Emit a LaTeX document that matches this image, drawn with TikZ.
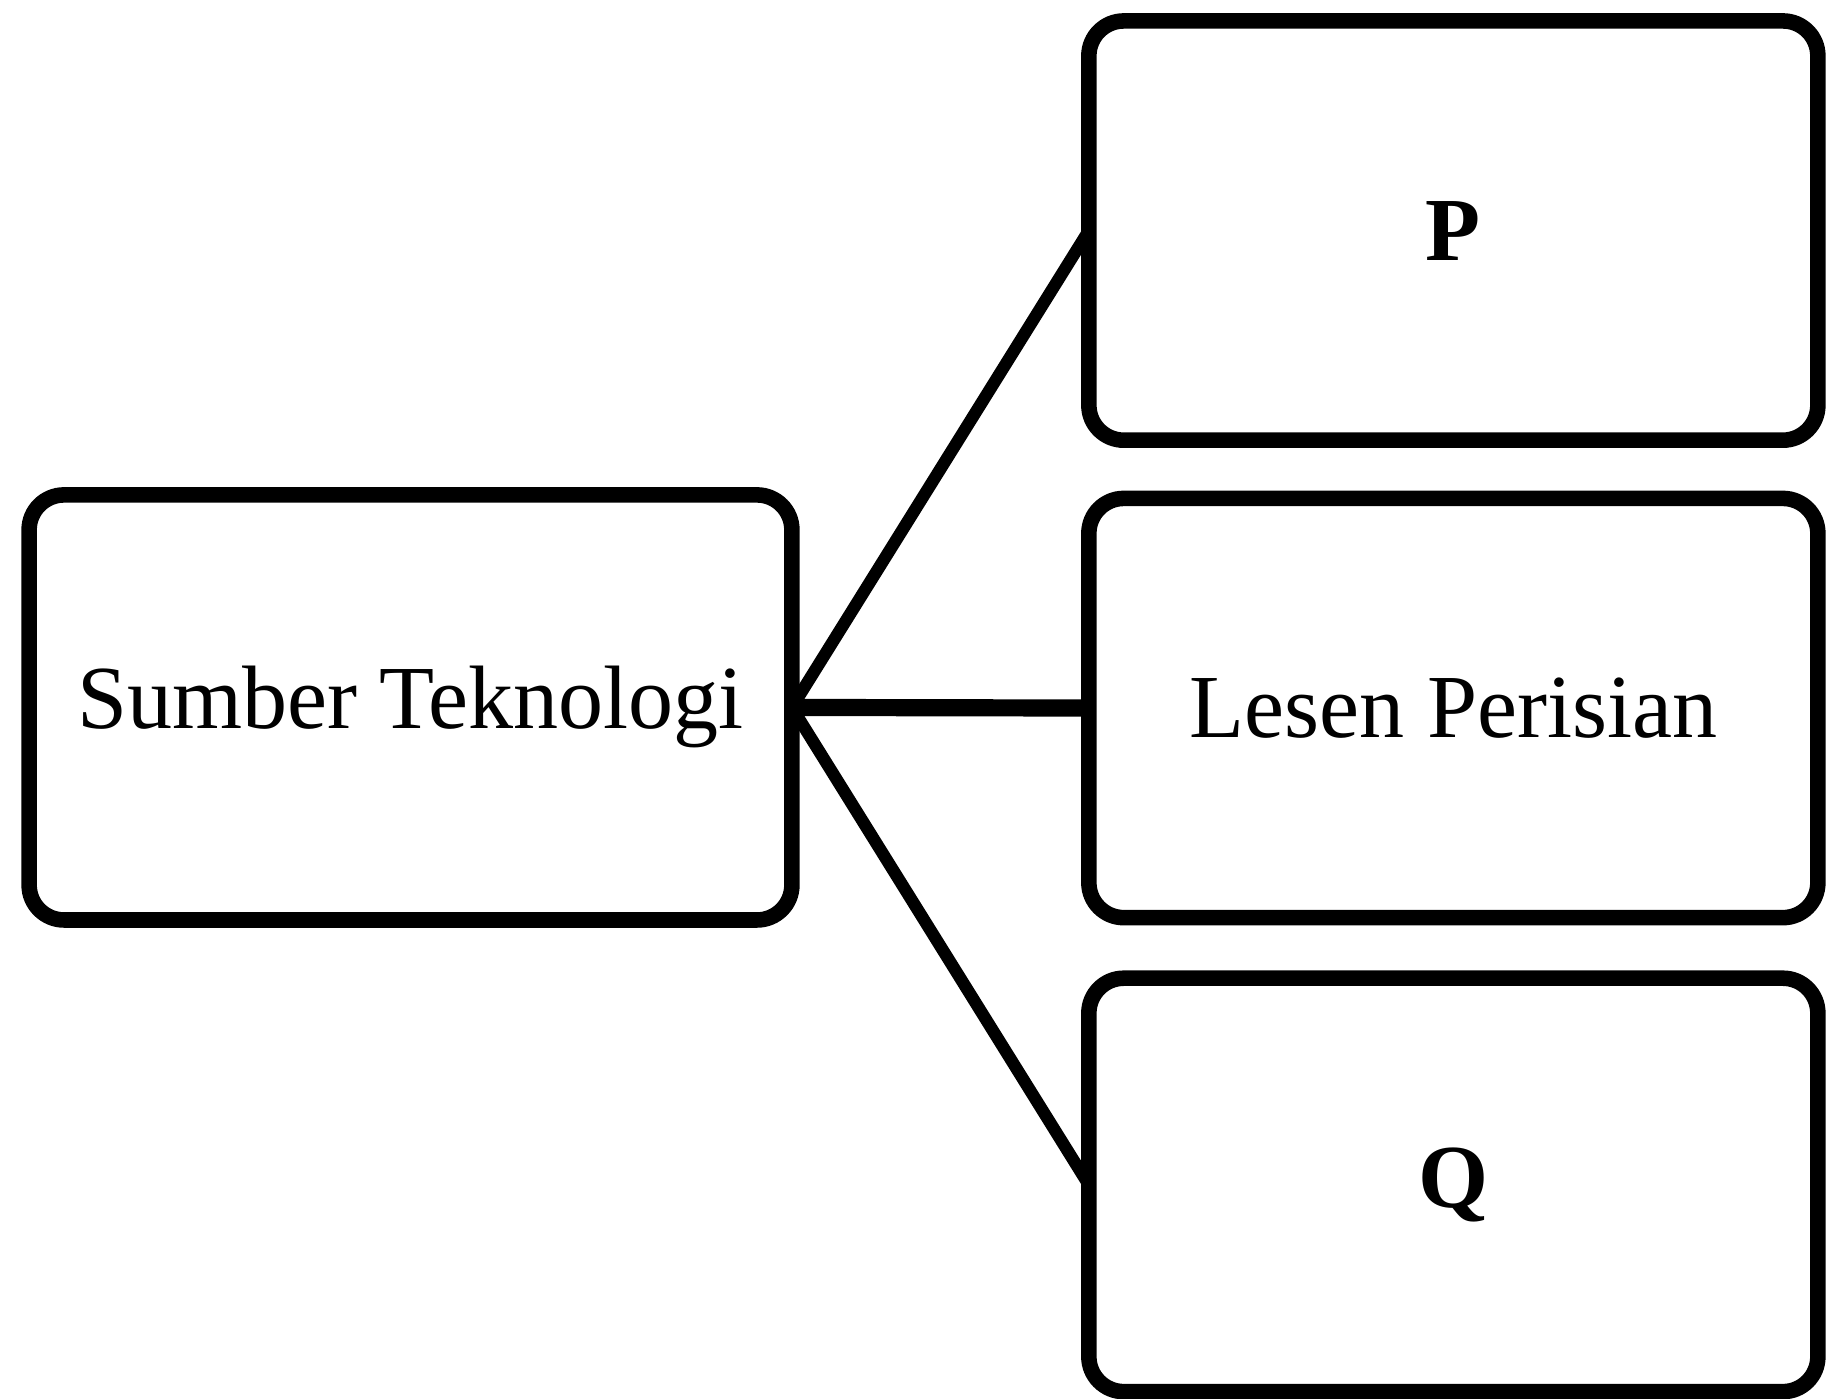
\documentclass[tikz,border=0pt]{standalone}
\usepackage{fontspec}
\setmainfont{Liberation Serif}
\usepackage{tikz}

\begin{document}
\begin{tikzpicture}[kotak/.style={draw, line width=3.8pt, rounded corners=0.3cm, inner sep=0pt, outer sep=0pt, font=\fontsize{22}{26}\selectfont}]

	\useasboundingbox (0,0) rectangle (15.68,12.01);

	\node[kotak, minimum width=6.55cm, minimum height=3.65cm] (a) at (3.525,5.935)  {Sumber Teknologi};
	
	\node[kotak, minimum width=6.26cm, minimum height=3.60cm] (b) at (12.48,10.03)  {\textbf{P}};
	\node[kotak, minimum width=6.26cm, minimum height=3.60cm] (c) at (12.48,5.93)  {Lesen Perisian};
	\node[kotak, minimum width=6.26cm, minimum height=3.55cm] (d) at (12.48,1.835)  {\textbf{Q}};
	
	\draw (a.east) edge[line width=3pt] (b.west)
	(a.east) edge[line width=4.2pt] (c.west)
	(a.east) edge[line width=3pt] (d.west);
	
\end{tikzpicture}
\end{document}
